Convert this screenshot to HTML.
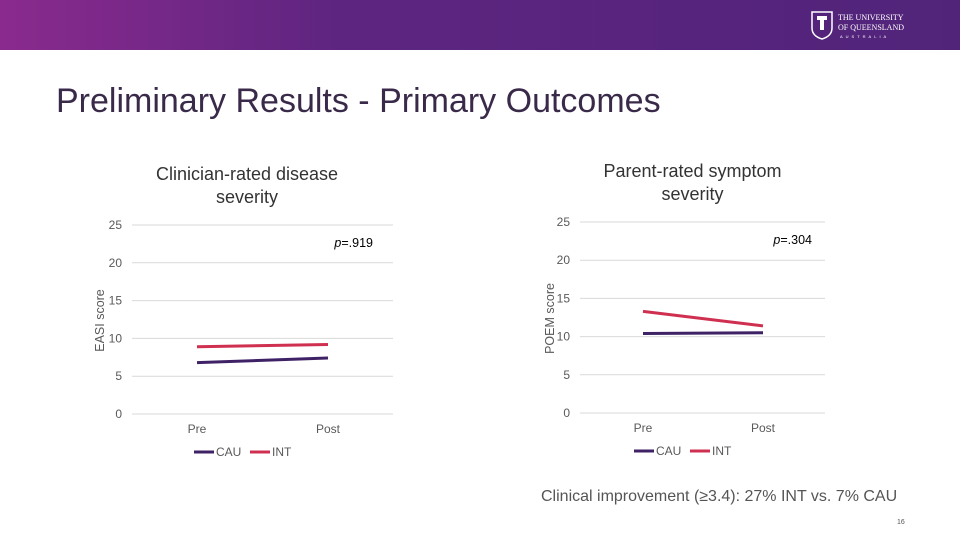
<!DOCTYPE html>
<html><head><meta charset="utf-8"><style>
body{margin:0;width:960px;height:540px;position:relative;background:#fff;font-family:"Liberation Sans",sans-serif;overflow:hidden}
.hdr{position:absolute;left:0;top:0;width:960px;height:50px;background:linear-gradient(90deg,#8a2a8e 0%,#5e2580 35%,#51247a 100%)}
.t{position:absolute;color:#404040}
</style></head><body>
<div class="hdr">
 <svg style="position:absolute;left:810px;top:10px" width="110" height="32">
  <path d="M2 2h20v16q0 8-10 11q-10-3-10-11z" fill="none" stroke="#fff" stroke-width="1.5"/>
  <path d="M7 6h10v4h-3v10h-4v-10h-3z" fill="#fff"/>
  <text x="28" y="10" fill="#fff" font-size="8" font-family="Liberation Serif,serif">THE UNIVERSITY</text>
  <text x="28" y="20" fill="#fff" font-size="8" font-family="Liberation Serif,serif">OF QUEENSLAND</text>
  <text x="30" y="28" fill="#fff" font-size="4" letter-spacing="3">AUSTRALIA</text>
 </svg>
</div>
<div class="t" style="left:56px;top:82px;font-size:34px;color:#3a2a4a">Preliminary Results - Primary Outcomes</div>
<div class="t" style="left:132px;top:163px;width:230px;text-align:center;font-size:18px;line-height:23px;color:#333">Clinician-rated disease severity</div>
<div class="t" style="left:590px;top:160px;width:205px;text-align:center;font-size:18px;line-height:23px;color:#333">Parent-rated symptom severity</div>
<svg id="c" width="960" height="540" style="position:absolute;left:0;top:0" font-family="Liberation Sans,sans-serif"></svg>
<div class="t" style="left:541px;top:488px;font-size:16px;color:#555">Clinical improvement (≥3.4): 27% INT vs. 7% CAU</div>
<div class="t" style="left:897px;top:519px;font-size:7px;color:#555">16</div>
<script>
const categories=["Pre","Post"];
const ticks=[0,5,10,15,20,25];
const easiCAU=[6.8,7.4];
const easiINT=[8.9,9.2];
const poemCAU=[10.4,10.5];
const poemINT=[13.3,11.4];
const svg=document.getElementById('c');const NS="http://www.w3.org/2000/svg";
function mk(t,a,txt){const e=document.createElementNS(NS,t);for(const k in a)e.setAttribute(k,a[k]);if(txt!==undefined)e.textContent=txt;svg.appendChild(e);return e;}
function chart(cfg){
 const y=v=>cfg.y0-(cfg.y0-cfg.y25)*v/25;
 const x=i=>cfg.px[i];
 ticks.forEach(v=>{
  let g=mk('line',{x1:cfg.gx0,x2:cfg.gx1,y1:y(v),y2:y(v),stroke:'#d9d9d9','stroke-width':1});
  
  let t=mk('text',{x:cfg.gx0-10,y:y(v)+4,'text-anchor':'end','font-size':12,fill:'#595959'},v);
  
 });
 categories.forEach((c,i)=>{let t=mk('text',{x:x(i),y:cfg.y0+19,'text-anchor':'middle','font-size':12,fill:'#595959'},c);
  });
 [[cfg.cau,'#3f2266','cau'],[cfg.int,'#d03050','int']].forEach(([d,col,n])=>{
  let l=mk('polyline',{points:d.map((v,i)=>x(i)+','+y(v)).join(' '),fill:'none',stroke:col,'stroke-width':3});
  
 });
 let a=mk('text',{transform:`translate(${cfg.ax},${(cfg.y0+cfg.y25)/2+1}) rotate(-90)`,'text-anchor':'middle','font-size':12.5,fill:'#595959'},cfg.axis);
 
 let p=mk('text',{x:cfg.px2,y:y(25)+22,'text-anchor':'end','font-size':12.5,fill:'#000'});
 
 p.innerHTML='<tspan font-style="italic">p</tspan>='+cfg.p;
 const lx=cfg.lx,ly=cfg.y0+38;
 let l1=mk('line',{x1:lx,x2:lx+20,y1:ly,y2:ly,stroke:'#3f2266','stroke-width':3});
 let t1=mk('text',{x:lx+22,y:ly+4,'font-size':12,fill:'#595959'},'CAU');
 let l2=mk('line',{x1:lx+56,x2:lx+76,y1:ly,y2:ly,stroke:'#d03050','stroke-width':3});
 let t2=mk('text',{x:lx+78,y:ly+4,'font-size':12,fill:'#595959'},'INT');
}
chart({name:'easi',y0:414,y25:225,gx0:132,gx1:393,px:[197,328],cau:easiCAU,int:easiINT,axis:'EASI score',ax:104,p:'.919',px2:373,lx:194});
chart({name:'poem',y0:413,y25:222,gx0:580,gx1:825,px:[643,763],cau:poemCAU,int:poemINT,axis:'POEM score',ax:554,p:'.304',px2:812,lx:634});
</script>
</body></html>
